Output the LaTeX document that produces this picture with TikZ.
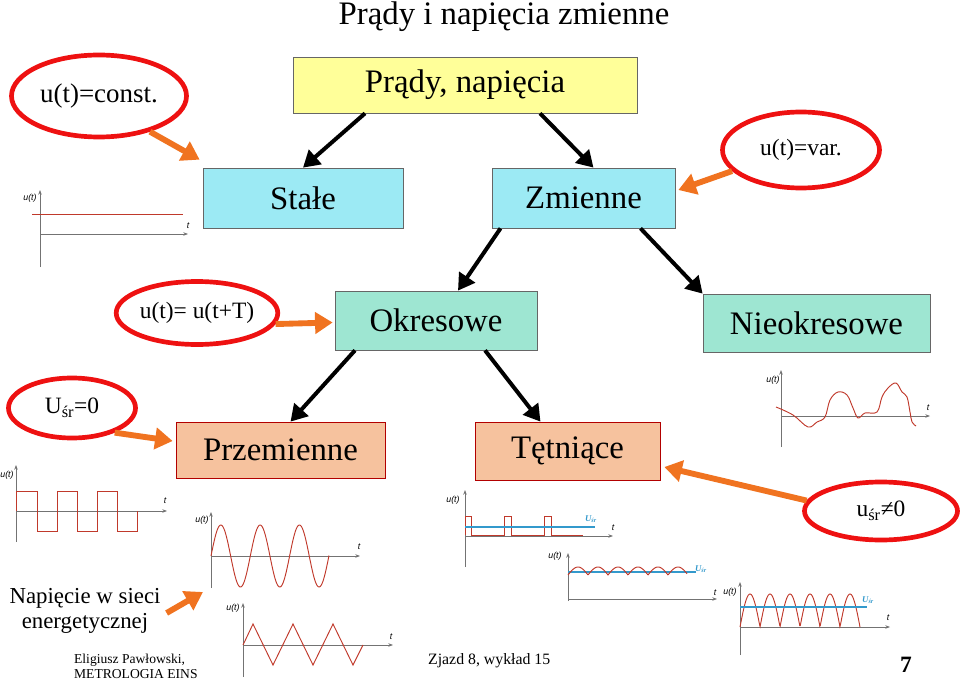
\documentclass[tikz,border=0pt]{standalone}
\usepackage{fontspec}
\setmainfont{Liberation Serif}
\newfontfamily\plotfont{Liberation Sans}
\usetikzlibrary{arrows.meta,shapes.geometric,calc}

\definecolor{boxyellow}{HTML}{FFFF99}
\definecolor{boxcyan}{HTML}{9CEAF4}
\definecolor{boxmint}{HTML}{9EE6D2}
\definecolor{boxsalmon}{HTML}{F6C29E}
\definecolor{ovalred}{HTML}{EE1111}
\definecolor{hintorange}{HTML}{F07320}
\definecolor{wavered}{HTML}{C0392B}
\definecolor{meanblue}{HTML}{3399CC}

\begin{document}
\begin{tikzpicture}[x=0.03cm,y=-0.03cm,
    box/.style={draw=black!60, line width=0.6pt, inner sep=0pt, font=\fontsize{28}{30}\selectfont},
    oval/.style={ellipse, draw=ovalred, line width=4pt, fill=white, inner sep=0pt, font=\fontsize{20}{22}\selectfont},
    down/.style={line width=3.4pt, -{Triangle[length=14pt,width=16pt]}},
    hint/.style={draw=hintorange, line width=5pt, -{Triangle[length=15pt,width=18pt]}},
    axis/.style={draw=black!55, line width=0.7pt, -{Stealth[length=4pt,width=3pt]}},
    wave/.style={draw=wavered, line width=0.8pt},
    mean/.style={draw=meanblue, line width=0.9pt},
    lbl/.style={font=\plotfont\itshape\fontsize{7.5}{8}\selectfont, inner sep=0pt},
    ulbl/.style={font=\bfseries\itshape\fontsize{7.5}{8}\selectfont, text=meanblue, inner sep=0pt}]
    \useasboundingbox (0,0) rectangle (960,681);

    % title and boxes
    \node (title) at (504,17) {\fontsize{28}{30}\selectfont Prądy i napięcia zmienne};
    \node[box, fill=boxyellow, minimum width=10.32cm, minimum height=1.68cm] (top) at (465,85) {Prądy, napięcia};
    \node[box, fill=boxcyan, minimum width=6cm, minimum height=1.8cm] (stale) at (303,198) {Stałe};
    \node[box, fill=boxcyan, minimum width=5.49cm, minimum height=1.8cm] (zmienne) at (583.5,198) {Zmienne};
    \node[box, fill=boxmint, minimum width=6.06cm, minimum height=1.77cm] (okres) at (436,320.5) {Okresowe};
    \node[box, fill=boxmint, minimum width=6.81cm, minimum height=1.74cm] (nieokr) at (816.5,323) {Nieokresowe};
    \node[box, draw=red!70!black, fill=boxsalmon, minimum width=6.27cm, minimum height=1.68cm] (przem) at (280.5,450) {Przemienne};
    \node[box, draw=red!70!black, fill=boxsalmon, minimum width=5.55cm, minimum height=1.74cm] (tetn) at (567.5,451) {Tętniące};

    \draw[down] ($(top.south)+(-100,0)$) -- (stale.north);
    \draw[down] ($(top.south)+(75,0)$) -- ($(zmienne.north)+(10,0)$);
    \draw[down] ($(zmienne.south)+(-83,0)$) -- ($(okres.north)+(22,0)$);
    \draw[down] ($(zmienne.south)+(57,0)$) -- (nieokr.north west);
    \draw[down] ($(okres.south)+(-81,0)$) -- ($(przem.north)+(10,0)$);
    \draw[down] ($(okres.south)+(49,0)$) -- ($(tetn.north)+(-27,0)$);

    % ovals
    \node[oval, minimum width=5.25cm, minimum height=2.46cm, font=\fontsize{23}{25}\selectfont] (const) at (99,96) {u(t)=const.};
    \node[oval, minimum width=4.71cm, minimum height=2.28cm] (var) at (801,150) {u(t)=var.};
    \node[oval, minimum width=4.65cm, minimum height=1.89cm] (okr) at (197,313) {u(t)= u(t+T)};
    \node[oval, minimum width=3.81cm, minimum height=1.8cm] (srzero) at (72,408) {U\textsubscript{śr}=0};
    \node[oval, minimum width=4.59cm, minimum height=1.74cm] (srnz) at (881,511) {u\textsubscript{śr}≠0};

    \draw[hint] (const.-35) -- ($(stale.north west)+(-3,-8)$);
    \draw[hint] (var.-163) -- ($(zmienne.east)+(3,-8)$);
    \draw[hint] (okr.-8) -- ($(okres.west)+(-2,2)$);
    \draw[hint] (srzero.-30) -- ($(przem.west)+(-3,-9)$);
    \draw[hint] (srnz.172) -- ($(tetn.east)+(4,16)$);

    \node[align=center, font=\fontsize{19.5}{22}\selectfont] (siec) at (85,611) {Napięcie w sieci\\energetycznej};
    \coordinate (sinetip) at (203,592);
    \draw[hint] ($(siec.east)+(2,2)$) -- (sinetip);

    % stale
    \begin{scope}[shift={(40,234)}]
        \draw[axis] (0,33) -- (0,-44);
        \draw[axis] (0,0) -- (148,0);
        \draw[wave] (-8,-20) -- (143,-20);
        \node[lbl] (u1) at (-10,-36) {u(t)};
        \node[lbl] (t1) at (148,-8) {t};
    \end{scope}

    % prostokat
    \begin{scope}[shift={(16,511)}]
        \draw[axis] (0,31) -- (0,-46);
        \draw[axis] (0,0) -- (151,0);
        \draw[wave] (0,0) -- (0,-20) -- (21,-20) -- (21,20) -- (41,20) -- (41,-20) -- (61,-20) -- (61,20)
            -- (81,20) -- (81,-20) -- (101,-20) -- (101,20) -- (121,20) -- (121,0);
        \node[lbl] (u2) at (-9,-36) {u(t)};
        \node[lbl] (t2) at (149,-10) {t};
    \end{scope}

    % sinus
    \begin{scope}[shift={(211,556)}]
        \draw[axis] (0,32) -- (0,-44);
        \draw[axis] (0,0) -- (149,0);
        \draw[wave] plot[domain=0:118, samples=150, smooth] (\x,{-31*sin(9.16*\x)});
        \node[lbl] (u3) at (-9,-36) {u(t)};
        \node[lbl] (t3) at (148,-9) {t};
    \end{scope}

    % trojkat
    \begin{scope}[shift={(243,645)}]
        \draw[axis] (0,32) -- (0,-42);
        \draw[axis] (0,0) -- (150,0);
        \draw[wave] (0,0) -- (10,-21) -- (30,20) -- (50,-21) -- (70,20) -- (90,-21) -- (110,20) -- (120,0);
        \node[lbl] (u4) at (-10,-37) {u(t)};
        \node[lbl] (t4) at (148,-8) {t};
    \end{scope}

    % impulsy
    \begin{scope}[shift={(465,536)}]
        \draw[axis] (0,31) -- (0,-46);
        \draw[axis] (0,0) -- (148,0);
        \draw[wave] (0,-1) -- (0,-20) -- (6,-20) -- (6,-1) -- (39,-1) -- (39,-20) -- (46,-20) -- (46,-1)
            -- (79,-1) -- (79,-20) -- (86,-20) -- (86,-1) -- (118,-1);
        \draw[mean] (0,-9) -- (130,-9);
        \node[ulbl] (m5) at (126,-17) {U\textsubscript{śr}};
        \node[lbl] (u5) at (-12,-36) {u(t)};
        \node[lbl] (t5) at (148,-8) {t};
    \end{scope}

    % tetnienia
    \begin{scope}[shift={(568,599)}]
        \draw[axis] (0,2) -- (0,-46);
        \draw[axis] (0,0) -- (149,0);
        \draw[mean] (0,-27) -- (128,-27);
        \draw[wave] plot[domain=0:119, samples=200] (\x,{-24-8*abs(sin(9*\x))});
        \node[ulbl] (m6) at (133,-30) {U\textsubscript{śr}};
        \node[lbl] (u6) at (-13,-43) {u(t)};
        \node[lbl] (t6) at (147,-6) {t};
    \end{scope}

    % wyprostowany
    \begin{scope}[shift={(740,627)}]
        \draw[axis] (0,28) -- (0,-45);
        \draw[axis] (0,0) -- (150,0);
        \draw[wave] plot[domain=0:120, samples=240] (\x,{-33*abs(sin(9*\x))});
        \draw[mean] (0,-20) -- (127,-20);
        \node[ulbl] (m7) at (128,-27) {U\textsubscript{śr}};
        \node[lbl] (u7) at (-10,-35) {u(t)};
        \node[lbl] (t7) at (148,-9) {t};
    \end{scope}

    % nieokresowy
    \begin{scope}[shift={(781,416)}]
        \draw[axis] (0,31) -- (0,-46);
        \draw[axis] (0,0) -- (149,0);
        \draw[wave] plot[smooth, tension=0.6] coordinates {(-5,-9) (12,-1) (27,11) (36,6) (44,1) (49,-16)
            (57,-24) (66,-21) (72,-8) (77,2) (84,-3) (96,-4) (101,-19) (107,-28) (115,-33) (121,-24)
            (126,-19) (129,-4) (131,6) (135,10)};
        \node[lbl] (u8) at (-8,-36) {u(t)};
        \node[lbl] (t8) at (147,-8) {t};
    \end{scope}

    % stopka
    \node[align=left, anchor=west, font=\fontsize{11.6}{13}\selectfont] (autor) at (70,666) {Eligiusz Pawłowski,\\METROLOGIA EINS};
    \node[anchor=west, font=\fontsize{13.5}{15}\selectfont] (zjazd) at (424,661) {Zjazd 8, wykład 15};
    \node[font=\fontsize{20}{22}\selectfont\bfseries] (strona) at (906,665) {7};
\end{tikzpicture}
\end{document}
